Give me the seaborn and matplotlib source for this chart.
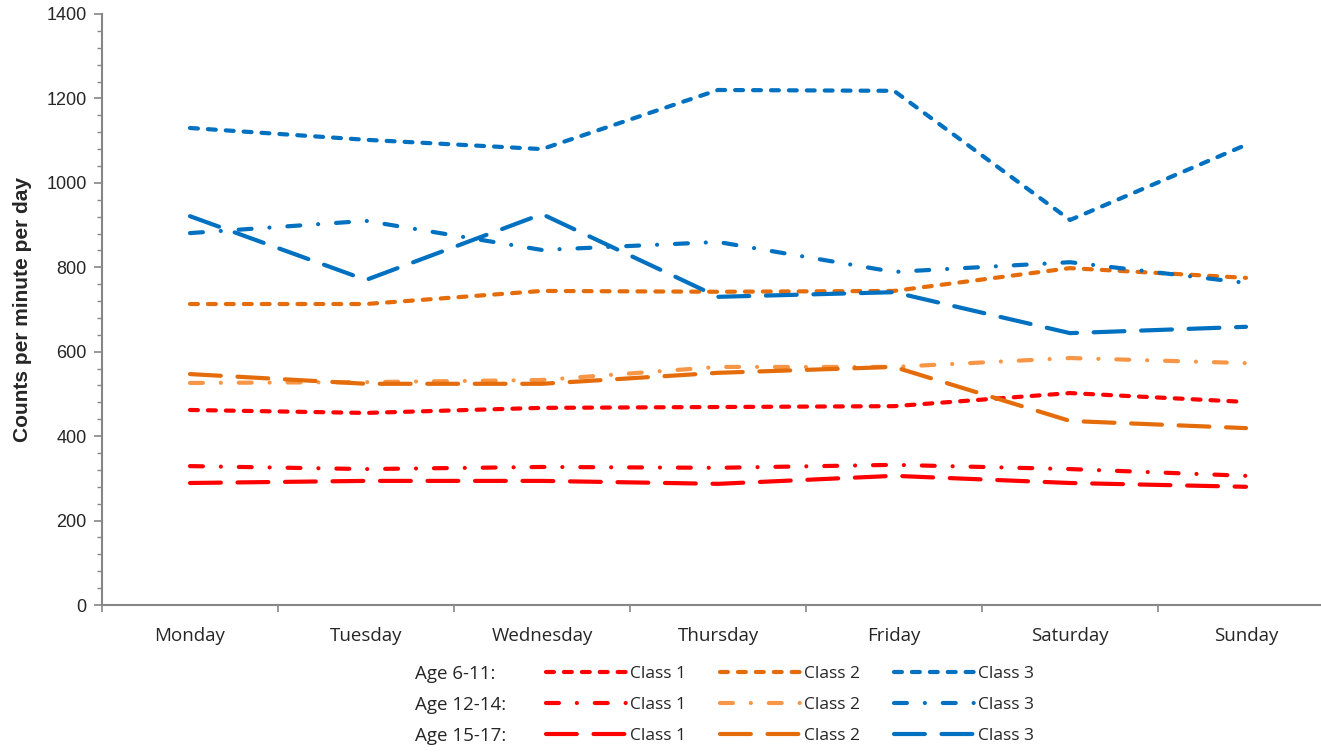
import numpy as np
import pandas as pd
import matplotlib
matplotlib.use("Agg")
import matplotlib.pyplot as plt
from matplotlib.ticker import MultipleLocator, FixedLocator
import seaborn as sns

days = ["Monday", "Tuesday", "Wednesday", "Thursday", "Friday", "Saturday", "Sunday"]

age_611_c1 = [462, 455, 467, 469, 471, 502, 481]
age_611_c2 = [713, 713, 744, 742, 744, 798, 775]
age_611_c3 = [1130, 1102, 1080, 1220, 1218, 912, 1090]
age_1214_c1 = [329, 322, 327, 325, 332, 322, 306]
age_1214_c2 = [526, 528, 533, 564, 564, 585, 573]
age_1214_c3 = [881, 910, 841, 860, 789, 812, 763]
age_1517_c1 = [289, 294, 294, 287, 306, 289, 280]
age_1517_c2 = [547, 524, 524, 550, 564, 436, 419]
age_1517_c3 = [921, 770, 926, 730, 741, 644, 659]

age_groups = ["Age 6-11:", "Age 12-14:", "Age 15-17:"]
classes = ["Class 1", "Class 2", "Class 3"]

series = {
    ("6-11", "Class 1"): age_611_c1,
    ("6-11", "Class 2"): age_611_c2,
    ("6-11", "Class 3"): age_611_c3,
    ("12-14", "Class 1"): age_1214_c1,
    ("12-14", "Class 2"): age_1214_c2,
    ("12-14", "Class 3"): age_1214_c3,
    ("15-17", "Class 1"): age_1517_c1,
    ("15-17", "Class 2"): age_1517_c2,
    ("15-17", "Class 3"): age_1517_c3,
}

colors = {
    ("6-11", "Class 1"): "#FF0000",
    ("6-11", "Class 2"): "#E46C0A",
    ("6-11", "Class 3"): "#0070C0",
    ("12-14", "Class 1"): "#FF0000",
    ("12-14", "Class 2"): "#F79646",
    ("12-14", "Class 3"): "#0070C0",
    ("15-17", "Class 1"): "#FF0000",
    ("15-17", "Class 2"): "#E46C0A",
    ("15-17", "Class 3"): "#0070C0",
}
dash_styles = {
    "6-11": (1.9, 2.4),
    "12-14": (3.1, 4.3, 0.01, 4.3),
    "15-17": (7.4, 4.0),
}

rows = []
for (age, cls), vals in series.items():
    for i, v in enumerate(vals):
        rows.append({"day": i, "value": v, "key": f"{age}|{cls}"})
df = pd.DataFrame(rows)

sns.set_style("white")
plt.rcParams["lines.dash_capstyle"] = "round"
plt.rcParams["lines.solid_capstyle"] = "round"

fig = plt.figure(figsize=(13.21, 7.52), dpi=100)
ax = fig.add_axes([102 / 1321, 1 - 605 / 752, 1232 / 1321, 591 / 752])

handles = {}
for (age, cls) in series:
    key = f"{age}|{cls}"
    sub = df[df["key"] == key]
    sns.lineplot(data=sub, x="day", y="value", ax=ax, color=colors[(age, cls)],
                 linewidth=3, label=cls, legend=False)
    ln = ax.lines[-1]
    ln.set_dashes(dash_styles[age])
    ln.set_dash_capstyle("round")
    handles[(age, cls)] = ln

ax.set_xlim(-0.5, 6.5)
ax.set_ylim(0, 1400)
ax.set_xlabel("")
ax.set_ylabel("Counts per minute per day", fontsize=15, fontweight="bold",
              family="Liberation Sans", labelpad=10)

ax.xaxis.set_major_locator(FixedLocator(range(7)))
ax.set_xticklabels(days, fontsize=13.5, family="Open Sans")
ax.xaxis.set_minor_locator(FixedLocator(np.arange(-0.5, 7, 1)))
ax.tick_params(axis="x", which="major", bottom=True, length=0, pad=16)
ax.tick_params(axis="x", which="minor", bottom=True, length=5, color="#868686", width=1.2,
               direction="out")

ax.yaxis.set_major_locator(MultipleLocator(200))
ax.yaxis.set_minor_locator(MultipleLocator(40))
ax.tick_params(axis="y", which="major", left=True, length=6, color="#868686", width=1.2,
               direction="out", labelsize=13, pad=5)
ax.tick_params(axis="y", which="minor", left=True, length=3.5, color="#868686", width=1.0,
               direction="out")
for lbl in ax.get_yticklabels():
    lbl.set_family("Liberation Sans")

for s in ["top", "right"]:
    ax.spines[s].set_visible(False)
for s in ["left", "bottom"]:
    ax.spines[s].set_color("#868686")
    ax.spines[s].set_linewidth(1.5)

# legend: column-major order so that rows are age groups
order = []
for cls in classes:
    for age in ["6-11", "12-14", "15-17"]:
        order.append(handles[(age, cls)])
labels = [h.get_label() for h in order]
leg = fig.legend(order, labels, ncol=3, loc="upper left",
                 bbox_to_anchor=(546 / 1321, 1 - 666 / 752),
                 frameon=False, handlelength=4.6,
                 handletextpad=0.25, columnspacing=1.95, labelspacing=0.85,
                 borderpad=0, borderaxespad=0,
                 prop={"family": "Open Sans", "size": 12.5})

for i, txt in enumerate(age_groups):
    fig.text(415 / 1321, 1 - (674 + 31 * i) / 752, txt, fontsize=13.5,
             family="Open Sans", va="center", ha="left")

fig.savefig("out.png", dpi=100)
